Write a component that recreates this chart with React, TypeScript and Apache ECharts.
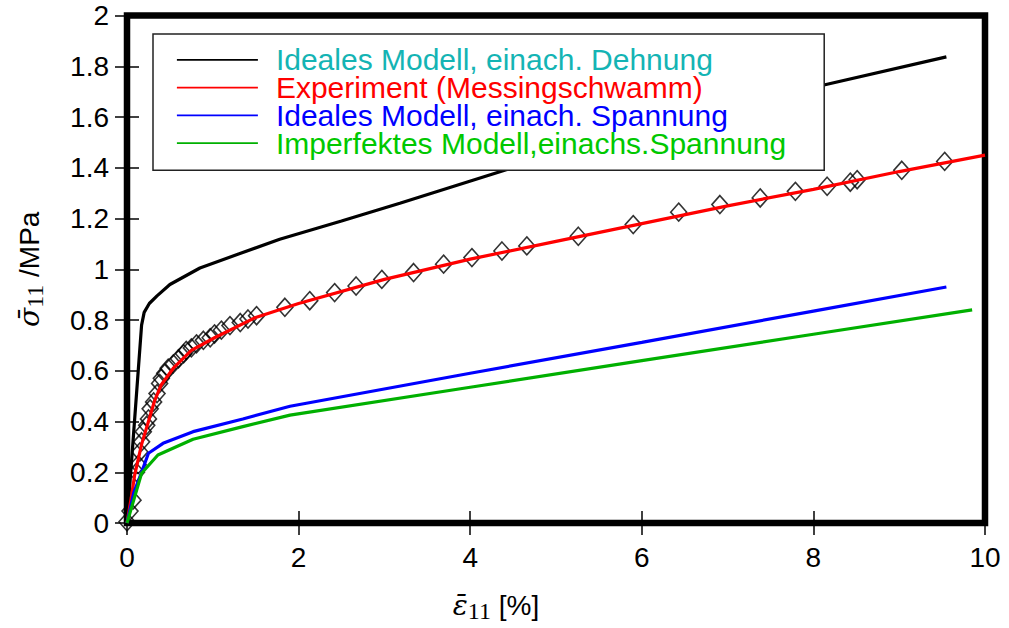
import React, { useEffect, useRef } from "react";
import * as echarts from "echarts";

const xTicks = [0, 2, 4, 6, 8, 10];
const yTicks = [0, 0.2, 0.4, 0.6, 0.8, 1, 1.2, 1.4, 1.6, 1.8, 2];

const legendNames = [
  "Ideales Modell, einach. Dehnung",
  "Experiment (Messingschwamm)",
  "Ideales Modell, einach. Spannung",
  "Imperfektes Modell,einachs.Spannung",
];
const legendTextColors = ["#14b4b4", "#ff0000", "#0000ff", "#00c800"];
const lineColors = ["#000000", "#ff0000", "#0000ff", "#00b000"];

const idealStrain: [number, number][] = [
  [0, 0], [0.17, 0.78], [0.2, 0.83], [0.26, 0.865], [0.35, 0.895], [0.5, 0.94],
  [0.85, 1.005], [1.3, 1.06], [1.78, 1.118], [2.5, 1.19], [3.18, 1.26], [4.42, 1.392],
  [5.5, 1.49], [6.5, 1.58], [7.3, 1.652], [8.11, 1.725], [9.55, 1.837],
];

const experimentFit: [number, number][] = [
  [0, 0], [0.05, 0.1], [0.09, 0.19], [0.17, 0.31], [0.25, 0.4], [0.32, 0.48],
  [0.4, 0.545], [0.54, 0.61], [0.75, 0.68], [1.02, 0.73], [1.5, 0.81], [2, 0.865],
  [3, 0.96], [4, 1.04], [5, 1.11], [6, 1.18], [7, 1.25], [8, 1.315], [9, 1.385], [10, 1.45],
];

const idealStress: [number, number][] = [
  [0, 0], [0.08, 0.12], [0.17, 0.2], [0.25, 0.275], [0.42, 0.314], [0.77, 0.36],
  [1.35, 0.41], [1.9, 0.46], [4, 0.59], [6, 0.712], [8, 0.835], [9.55, 0.93],
];

const imperfectStress: [number, number][] = [
  [0, 0], [0.17, 0.196], [0.36, 0.268], [0.77, 0.33], [1.35, 0.38], [1.9, 0.425],
  [4, 0.535], [6, 0.64], [8, 0.744], [9.85, 0.84],
];

const experimentPoints: [number, number][] = [
  [0, 0.005], [0.035, 0.047], [0.07, 0.09], [0.11, 0.2], [0.13, 0.23], [0.15, 0.28],
  [0.17, 0.32], [0.19, 0.36], [0.23, 0.385], [0.25, 0.41], [0.27, 0.45], [0.31, 0.477],
  [0.35, 0.51], [0.38, 0.55], [0.4, 0.57], [0.44, 0.59], [0.48, 0.61], [0.54, 0.627],
  [0.6, 0.647], [0.66, 0.667], [0.69, 0.68], [0.75, 0.69], [0.81, 0.706], [0.89, 0.72],
  [0.97, 0.73], [1.02, 0.745], [1.1, 0.76], [1.2, 0.778], [1.32, 0.79], [1.41, 0.804],
  [1.51, 0.817], [1.84, 0.85], [2.13, 0.876], [2.42, 0.908], [2.67, 0.934], [2.97, 0.96],
  [3.34, 0.987], [3.69, 1.02], [4.02, 1.046], [4.37, 1.072], [4.66, 1.092], [5.26, 1.13],
  [5.9, 1.176], [6.43, 1.225], [6.91, 1.255], [7.38, 1.281], [7.79, 1.307], [8.16, 1.327],
  [8.43, 1.343], [8.51, 1.353], [9.03, 1.39], [9.53, 1.425],
];

const lineData = [idealStrain, experimentFit, idealStress, imperfectStress];

export default function App() {
  const ref = useRef<HTMLDivElement>(null);
  useEffect(() => {
    if (!ref.current) return;
    const chart = echarts.init(ref.current, null, { renderer: "svg" });
    const tickStyle = { show: true, inside: true, length: 12, lineStyle: { color: "#000", width: 1.5 } };
    const labelFont = { fontFamily: "Liberation Sans", fontSize: 28, color: "#000" };
    const xBase = {
      type: "value" as const,
      min: xTicks[0],
      max: xTicks[xTicks.length - 1],
      interval: xTicks[1] - xTicks[0],
      axisLine: { show: false },
      axisTick: tickStyle,
      splitLine: { show: false },
    };
    const yBase = {
      type: "value" as const,
      min: yTicks[0],
      max: yTicks[yTicks.length - 1],
      interval: 0.2,
      axisLine: { show: false },
      axisTick: tickStyle,
      splitLine: { show: false },
    };
    const option: any = {
      animation: false,
      backgroundColor: "#fff",
      grid: {
        show: true,
        left: 127,
        right: 24,
        top: 15.5,
        bottom: 103,
        borderColor: "#000",
        borderWidth: 6.5,
        backgroundColor: "transparent",
      },
      legend: {
        show: true,
        orient: "vertical",
        left: 153,
        top: 34,
        padding: [10.8, 38, 12, 23],
        backgroundColor: "#fff",
        borderColor: "#222",
        borderWidth: 1.5,
        itemWidth: 81,
        itemHeight: 14,
        itemGap: -2.2,
        lineStyle: { width: 1.8 },
        itemStyle: { opacity: 0, borderWidth: 0 },
        textStyle: {
          fontFamily: "Liberation Sans",
          fontSize: 30,
          lineHeight: 27,
          padding: [0, 0, 0, 13],
        },
        data: legendNames.map((n, i) => ({
          name: n,
          textStyle: { color: legendTextColors[i] },
        })),
      },
      xAxis: [
        {
          ...xBase,
          position: "bottom",
          axisLabel: { ...labelFont, margin: 20 },
          name: "{e|ε̄}{b|11} [%]",
          nameLocation: "middle",
          nameGap: 64,
          nameTextStyle: {
            fontFamily: "Liberation Sans",
            fontSize: 28,
            color: "#000",
            lineHeight: 36,
            padding: [0, 120, 0, 0],
            rich: {
              e: { fontFamily: "DejaVu Serif", fontStyle: "italic", fontSize: 28, lineHeight: 36, verticalAlign: "middle", color: "#000" },
              b: { fontFamily: "Liberation Serif", fontSize: 24, lineHeight: 22, verticalAlign: "bottom", color: "#000" },
            },
          },
        },
        { ...xBase, position: "top", axisLabel: { show: false } },
      ],
      yAxis: [
        {
          ...yBase,
          position: "left",
          axisLabel: { ...labelFont, margin: 18 },
          name: "{s|σ̄}{b|11} /MPa",
          nameLocation: "middle",
          nameGap: 80,
          nameTextStyle: {
            fontFamily: "Liberation Sans",
            fontSize: 28,
            color: "#000",
            lineHeight: 36,
            rich: {
              s: { fontFamily: "DejaVu Serif", fontStyle: "italic", fontSize: 28, lineHeight: 36, verticalAlign: "middle", color: "#000" },
              b: { fontFamily: "Liberation Serif", fontSize: 24, lineHeight: 22, verticalAlign: "bottom", color: "#000" },
            },
          },
        },
        { ...yBase, position: "right", axisLabel: { show: false } },
      ],
      series: [
        {
          type: "scatter",
          name: "Messpunkte",
          data: experimentPoints,
          symbol: "diamond",
          symbolSize: [16, 18],
          itemStyle: { color: "rgba(0,0,0,0)", borderColor: "#000", borderWidth: 1.6 },
          clip: false,
          z: 2,
        },
        ...lineData.map((d, i) => ({
          type: "line",
          name: legendNames[i],
          data: d,
          symbol: "none",
          showSymbol: false,
          lineStyle: { color: lineColors[i], width: 3.2 },
          itemStyle: { color: lineColors[i] },
          z: 3,
        })),
      ],
    };
    chart.setOption(option);
    return () => chart.dispose();
  }, []);
  return (
    <div
      ref={ref}
      style={{ position: "fixed", left: 0, top: 0, width: 1009, height: 628, background: "#fff" }}
    />
  );
}
